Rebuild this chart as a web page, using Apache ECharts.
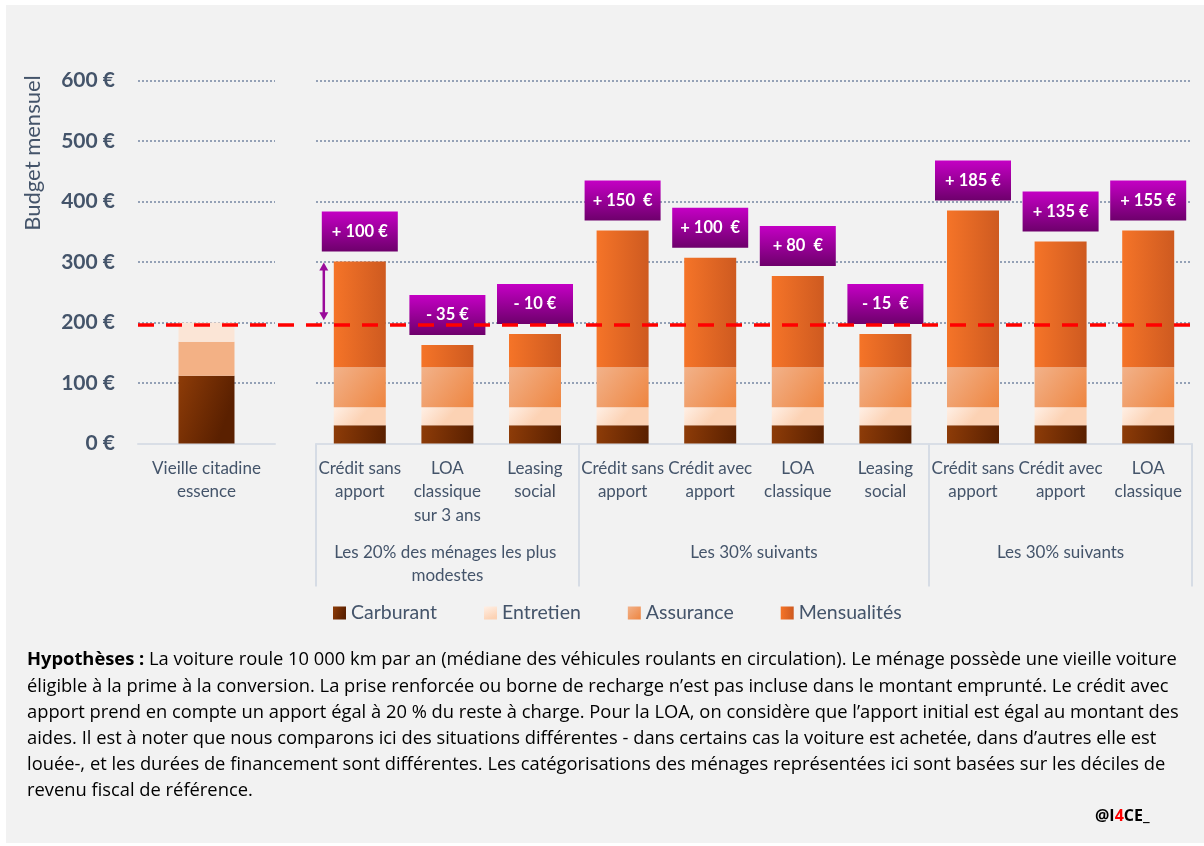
<!DOCTYPE html>
<html><head><meta charset="utf-8">
<script src="https://cdn.jsdelivr.net/npm/echarts@6/dist/echarts.min.js"></script>
<style>
html,body{margin:0;padding:0;background:#fff;}
#bg{position:absolute;left:6px;top:5px;width:1198px;height:838px;background:#F2F2F2;}
#main{position:absolute;left:0;top:0;width:1204px;height:846px;}
</style></head><body>
<div id="bg"></div><div id="main"></div>
<script>
// ---------- data ----------
const yTickMin = 0, yTickMax = 600, yTickStep = 100;
const refCategory = ['Vieille citadine\nessence'];
const refCarburant = [112];
const refAssurance = [56];
const refEntretien = [32];

const categories = ['Crédit sans\napport', 'LOA\nclassique\nsur 3 ans', 'Leasing\nsocial',
  'Crédit sans\napport', 'Crédit avec\napport', 'LOA\nclassique', 'Leasing\nsocial',
  'Crédit sans\napport', 'Crédit avec\napport', 'LOA\nclassique'];
const carburant   = [30, 30, 30, 30, 30, 30, 30, 30, 30, 30];
const entretien   = [30, 30, 30, 30, 30, 30, 30, 30, 30, 30];
const assurance   = [66, 66, 66, 66, 66, 66, 66, 66, 66, 66];
const mensualites = [175, 37, 55, 226, 181, 151, 55, 259, 208, 226];
const deltas = ['+ 100 €', '- 35 €', '- 10 €', '+ 150  €', '+ 100  €', '+ 80  €', '- 15  €', '+ 185 €', '+ 135 €', '+ 155 €'];

const groupLabels = ['Les 20% des ménages les plus modestes', 'Les 30% suivants', 'Les 30% suivants'];
const groupSizes = [3, 4, 3];
const referenceBudget = 197;
const seriesNames = ['Carburant', 'Entretien', 'Assurance', 'Mensualités'];
const yAxisName = 'Budget mensuel';

const footLines = [
  ['Hypothèses :', ' La voiture roule 10 000 km par an (médiane des véhicules roulants en circulation). Le ménage possède une vieille voiture'],
  ['', 'éligible à la prime à la conversion. La prise renforcée ou borne de recharge n’est pas incluse dans le montant emprunté. Le crédit avec'],
  ['', 'apport prend en compte un apport égal à 20 % du reste à charge. Pour la LOA, on considère que l’apport initial est égal au montant des'],
  ['', 'aides. Il est à noter que nous comparons ici des situations différentes - dans certains cas la voiture est achetée, dans d’autres elle est'],
  ['', 'louée-, et les durées de financement sont différentes. Les catégorisations des ménages représentées ici sont basées sur les déciles de'],
  ['', 'revenu fiscal de référence.']
];

// ---------- styles ----------
const FONT = 'Lato';
const FOOT_FONT = 'Open Sans';
const SLATE = '#44546A';
const LG = echarts.graphic.LinearGradient;
const cCarb = new LG(0, 0, 1, 0.3, [{offset: 0, color: '#8E3C08'}, {offset: 1, color: '#5A2000'}]);
const cEntr = new LG(0, 0, 0.4, 1, [{offset: 0, color: '#FFF0E6'}, {offset: 1, color: '#FCD2B4'}]);
const cAssu = new LG(0, 0, 1, 1, [{offset: 0, color: '#F2B28A'}, {offset: 1, color: '#EE8540'}]);
const cMens = new LG(0, 0, 1, 0, [{offset: 0, color: '#F57428'}, {offset: 1, color: '#CE5A20'}]);
const cBox = new LG(0, 0, 0, 1, [{offset: 0, color: '#C400C4'}, {offset: 1, color: '#6E006C'}]);

// footnote font size chosen so the longest line fills the text block width
const FOOT_WIDTH = 1150;
const mctx = document.createElement('canvas').getContext('2d');
function textW(str, size, weight) { mctx.font = (weight || 'normal') + ' ' + size + 'px "' + FOOT_FONT + '"'; return mctx.measureText(str).width; }
const w1 = textW(footLines[0][0], 20, 'bold') + textW(footLines[0][1], 20);
const footSize = Math.min(19, 20 * FOOT_WIDTH / w1);

// group axis (half-category positions)
const groupAxisData = [];
const total = groupSizes.reduce((a, b) => a + b, 0);
for (let i = 0; i <= total * 2; i++) groupAxisData.push('');
const labelIdx = new Set(), tickIdx = new Set([0]);
let cum = 0;
groupSizes.forEach((s, g) => {
  const c = (cum * 2) + s;
  groupAxisData[c] = groupLabels[g];
  labelIdx.add(c);
  cum += s;
  tickIdx.add(cum * 2);
});

const splitLine = {show: true, lineStyle: {color: '#7586A3', type: [2, 2], width: 1.5}};
const zeroLine = {show: true, lineStyle: {color: '#D9DEE6', width: 2}};
const catLabel = {color: SLATE, fontFamily: FONT, fontSize: 17, lineHeight: 23.5, margin: 13, interval: 0};

const chart = echarts.init(document.getElementById('main'));
const option = {
  animation: false,
  backgroundColor: 'transparent',
  textStyle: {fontFamily: FONT},
  grid: [
    {left: 138, width: 137, top: 80.5, height: 363},
    {left: 316, width: 876, top: 80.5, height: 363},
    {left: 138, width: 1054, top: 80.5, height: 363}
  ],
  xAxis: [
    {type: 'category', gridIndex: 0, data: refCategory, axisLine: zeroLine, axisTick: {show: false}, axisLabel: catLabel},
    {type: 'category', gridIndex: 1, data: categories, axisLine: zeroLine, axisTick: {show: false}, axisLabel: catLabel},
    {type: 'category', gridIndex: 1, data: groupAxisData, boundaryGap: false, position: 'bottom',
     axisLine: {show: false},
     axisTick: {show: true, interval: (i) => tickIdx.has(i), length: 143, inside: false, lineStyle: {color: '#D6DCE5', width: 2}},
     axisLabel: {interval: (i) => labelIdx.has(i), color: SLATE, fontFamily: FONT, fontSize: 17, lineHeight: 23.5,
                 margin: 97, width: 262, overflow: 'break'}},
    {type: 'category', gridIndex: 2, data: ['x'], show: false}
  ],
  yAxis: [
    {type: 'value', gridIndex: 0, min: yTickMin, max: yTickMax, interval: yTickStep,
     axisLine: {show: false}, axisTick: {show: false}, splitLine: splitLine,
     axisLabel: {formatter: '{value} €', color: SLATE, fontFamily: FONT, fontWeight: 'bold', fontSize: 21, margin: 23}},
    {type: 'value', gridIndex: 1, min: yTickMin, max: yTickMax, interval: yTickStep,
     axisLine: {show: false}, axisTick: {show: false}, splitLine: splitLine, axisLabel: {show: false}},
    {type: 'value', gridIndex: 2, min: yTickMin, max: yTickMax, show: false}
  ],
  legend: {
    data: seriesNames, left: 333, top: 603, itemWidth: 13, itemHeight: 13, itemGap: 47, padding: 0,
    icon: 'rect', textStyle: {color: SLATE, fontFamily: FONT, fontSize: 19.5}
  },
  series: [
    {name: 'Carburant', type: 'bar', stack: 'b', xAxisIndex: 1, yAxisIndex: 1, barWidth: 52, data: carburant, itemStyle: {color: cCarb}},
    {name: 'Entretien', type: 'bar', stack: 'b', xAxisIndex: 1, yAxisIndex: 1, barWidth: 52, data: entretien, itemStyle: {color: cEntr}},
    {name: 'Assurance', type: 'bar', stack: 'b', xAxisIndex: 1, yAxisIndex: 1, barWidth: 52, data: assurance, itemStyle: {color: cAssu}},
    {name: 'Mensualités', type: 'bar', stack: 'b', xAxisIndex: 1, yAxisIndex: 1, barWidth: 52, data: mensualites, itemStyle: {color: cMens},
     label: {show: true, position: 'top', distance: 10,
             formatter: (p) => deltas[p.dataIndex],
             color: '#fff', fontFamily: FONT, fontWeight: 'bold', fontSize: 16.5,
             backgroundColor: cBox, width: 76, height: 40, lineHeight: 40, align: 'center',
             shadowBlur: 8, shadowColor: 'rgba(0,0,0,0.45)', shadowOffsetX: -3, shadowOffsetY: -1}},
    {name: 'Carburant', type: 'bar', stack: 'a', xAxisIndex: 0, yAxisIndex: 0, barWidth: 56, data: refCarburant, itemStyle: {color: cCarb}},
    {name: 'Assurance', type: 'bar', stack: 'a', xAxisIndex: 0, yAxisIndex: 0, barWidth: 56, data: refAssurance, itemStyle: {color: '#F3B185'}},
    {name: 'Entretien', type: 'bar', stack: 'a', xAxisIndex: 0, yAxisIndex: 0, barWidth: 56, data: refEntretien, itemStyle: {color: '#FBE5D6'}},
    {name: 'ref', type: 'line', xAxisIndex: 3, yAxisIndex: 2, data: [null], z: 10, silent: true,
     markLine: {symbol: 'none', silent: true, label: {show: false},
                lineStyle: {color: '#FF0000', type: [16, 12], width: 3.5},
                data: [{yAxis: referenceBudget}]}}
  ]
};
chart.setOption(option);

// annotation arrow (first bar top -> reference line), positioned through the axes
const firstTotal = carburant[0] + entretien[0] + assurance[0] + mensualites[0];
const pT = chart.convertToPixel({xAxisIndex: 1, yAxisIndex: 1}, [0, firstTotal]);
const pB = chart.convertToPixel({xAxisIndex: 1, yAxisIndex: 1}, [0, referenceBudget]);
const ax = pT[0] - 36, yT = pT[1] + 1, yB = pB[1] - 4;
const purple = '#9A0A9A';
const footStartY = 647;
const footText = footLines.map(l => (l[0] ? '{b|' + l[0] + '}' : '') + l[1]).join('\n');
chart.setOption({
  graphic: [
    {type: 'line', shape: {x1: ax, y1: yT + 6, x2: ax, y2: yB - 6}, style: {stroke: purple, lineWidth: 2.5}, z: 20},
    {type: 'polygon', shape: {points: [[ax, yT], [ax - 4.5, yT + 8], [ax + 4.5, yT + 8]]}, style: {fill: purple}, z: 20},
    {type: 'polygon', shape: {points: [[ax, yB], [ax - 4.5, yB - 8], [ax + 4.5, yB - 8]]}, style: {fill: purple}, z: 20},
    {type: 'text', x: 33, y: 153, rotation: Math.PI / 2,
     style: {text: yAxisName, fill: SLATE, font: '22px ' + FONT, textAlign: 'center', textVerticalAlign: 'middle'}},
    {type: 'text', left: 27, top: footStartY,
     style: {text: footText, fill: '#000', fontFamily: FOOT_FONT, fontSize: footSize, lineHeight: 26.2,
             rich: {b: {fontWeight: 'bold', fontFamily: FOOT_FONT, fontSize: footSize, lineHeight: 26.2, fill: '#000'}}}},
    {type: 'text', left: 1095, top: 808,
     style: {text: '@I{r|4}CE_', fill: '#000', fontFamily: FOOT_FONT, fontWeight: 'bold', fontSize: 16,
             rich: {r: {fill: '#FF0000', fontFamily: FOOT_FONT, fontWeight: 'bold', fontSize: 16}}}}
  ]
});
</script>
</body></html>
